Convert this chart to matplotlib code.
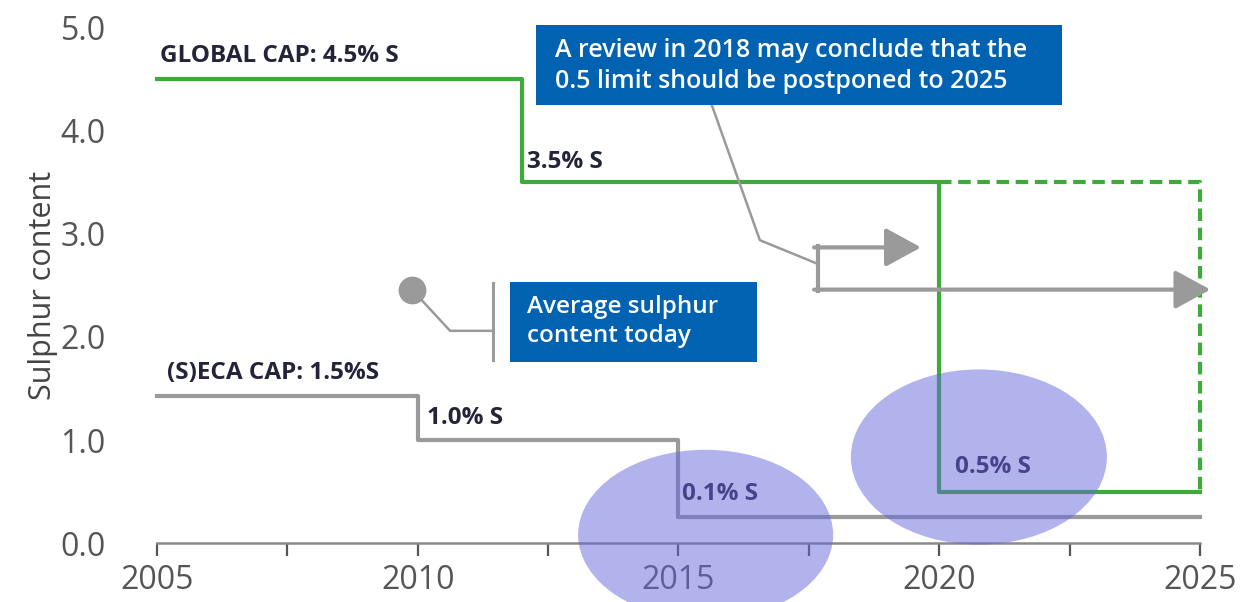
import matplotlib
matplotlib.use("Agg")
import matplotlib.pyplot as plt
from matplotlib.patches import Ellipse

# ---- data ----
global_years = [2005, 2012, 2020, 2025]
global_cap = [4.5, 3.5, 0.5, 0.5]
eca_years = [2005, 2010, 2015, 2025]
eca_cap = [1.43, 1.0, 0.25, 0.25]
postponed_years = [2020, 2025, 2025]
postponed_cap = [3.5, 3.5, 0.5]
x_major = [2005, 2010, 2015, 2020, 2025]
x_minor = [2007.5, 2012.5, 2017.5, 2022.5]
y_ticks = [0.0, 1.0, 2.0, 3.0, 4.0, 5.0]

GREEN = "#3dab37"
GREY = "#9a9a9b"
BLUE = "#0062b0"
DARK = "#23233a"
FONT = "Open Sans"

fig = plt.figure(figsize=(12.53, 6.02), dpi=100)
ax = fig.add_axes([0.1253, 0.098, 0.8324, 0.8555])
ax.set_xlim(2005, 2025)
ax.set_ylim(0, 5.0)

for s in ["left", "right", "top"]:
    ax.spines[s].set_visible(False)
ax.spines["bottom"].set_color("#8a8a8a")
ax.spines["bottom"].set_linewidth(1.8)

ax.set_xticks(x_major)
ax.set_xticklabels([str(v) for v in x_major])
ax.set_xticks(x_minor, minor=True)
ax.tick_params(axis="x", which="both", length=9, width=1.6, color="#555555",
               labelsize=23, labelcolor="#555555", pad=6)
ax.set_yticks(y_ticks)
ax.set_yticklabels([f"{v:.1f}" for v in y_ticks])
ax.tick_params(axis="y", length=0, labelsize=23, labelcolor="#555555", pad=37)
for lab in ax.get_xticklabels() + ax.get_yticklabels():
    lab.set_fontfamily(FONT)
ax.set_ylabel("Sulphur content", fontsize=22, color="#444444", family=FONT, labelpad=2)

# step lines
ax.step(global_years, global_cap, where="post", color=GREEN, lw=3, zorder=3, clip_on=False)
ax.plot(postponed_years, postponed_cap, color=GREEN, lw=3, ls=(0, (3, 1.6)), zorder=3, clip_on=False)
ax.step(eca_years, eca_cap, where="post", color=GREY, lw=3, zorder=3, clip_on=False)

# labels
tkw = dict(fontsize=17.5, fontweight="bold", color=DARK, family=FONT, zorder=6)
ax.text(2005.06, 4.73, "GLOBAL CAP: 4.5% S", va="center", ha="left", **tkw)
ax.text(2012.1, 3.70, "3.5% S", va="center", ha="left", **tkw)
ax.text(2005.2, 1.65, "(S)ECA CAP: 1.5%S", va="center", ha="left", **tkw)
ax.text(2010.18, 1.21, "1.0% S", va="center", ha="left", **tkw)
ax.text(2015.07, 0.48, "0.1% S", va="center", ha="left", **tkw)
ax.text(2020.3, 0.74, "0.5% S", va="center", ha="left", **tkw)

# review callout connector + arrows
ax.plot([2015.64, 2016.56, 2017.67], [4.25, 2.94, 2.71], color=GREY, lw=1.8, zorder=4, clip_on=False)
ax.plot([2017.67, 2017.67], [2.88, 2.45], color=GREY, lw=3, zorder=4, solid_capstyle="projecting")
astyle = "-|>,head_length=2.2,head_width=1.2"
ax.annotate("", xy=(2019.65, 2.87), xytext=(2017.6, 2.87),
            arrowprops=dict(arrowstyle=astyle, color=GREY, lw=3, shrinkA=0, shrinkB=0),
            zorder=4, annotation_clip=False)
ax.annotate("", xy=(2025.2, 2.46), xytext=(2017.6, 2.46),
            arrowprops=dict(arrowstyle=astyle, color=GREY, lw=3, shrinkA=0, shrinkB=0),
            zorder=4, annotation_clip=False)

# average sulphur callout
ax.plot([2009.89, 2010.62, 2011.44], [2.46, 2.06, 2.06], color=GREY, lw=1.8, zorder=4)
ax.plot([2009.89], [2.46], marker="o", ms=19, color=GREY, zorder=4)
ax.plot([2011.44, 2011.44], [2.52, 1.78], color=GREY, lw=2.2, zorder=4)

# blue boxes
def blue_box(x0, y0, x1, y1, text, tx, ty, fs):
    ax.add_patch(plt.Rectangle((x0, y0), x1 - x0, y1 - y0, facecolor=BLUE, edgecolor="none",
                               zorder=5, clip_on=False))
    ax.text(tx, ty, text, color="white", fontsize=fs, family=FONT, fontweight="semibold",
            va="center", ha="left", linespacing=1.3, zorder=6)

blue_box(2011.77, 1.76, 2016.5, 2.53, "Average sulphur\ncontent today", 2012.1, 2.15, 17.5)
blue_box(2012.27, 4.25, 2022.35, 5.03,
         "A review in 2018 may conclude that the\n0.5 limit should be postponed to 2025",
         2012.63, 4.63, 18)

# ellipses
for (cx, cy, w, h) in [(2015.52, 0.08, 4.89, 1.65), (2020.76, 0.835, 4.91, 1.70)]:
    ax.add_patch(Ellipse((cx, cy), w, h, facecolor="#6666dd", alpha=0.5, edgecolor="none",
                         zorder=7, clip_on=False))

fig.savefig("out.png", dpi=100)
